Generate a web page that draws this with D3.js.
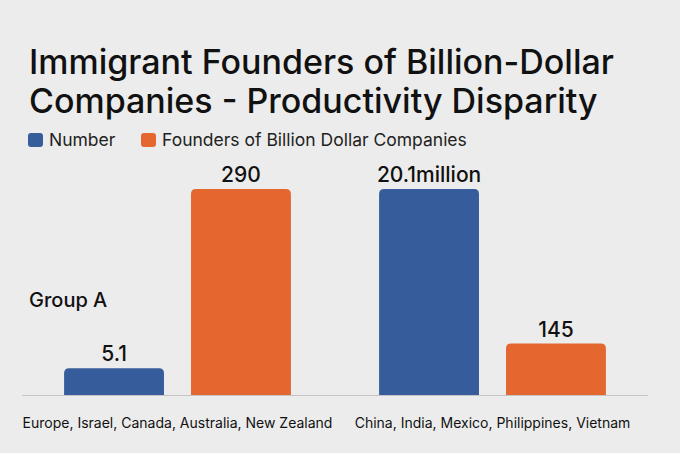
<!DOCTYPE html>
<html>
<head>
<meta charset="utf-8">
<script src="https://cdn.jsdelivr.net/npm/d3@7"></script>
<style>
	html, body { margin: 0; padding: 0; background: #ececec; }
	svg { display: block; font-family: Inter, "Noto Sans", sans-serif; }
</style>
</head>
<body>
<div class="svg-container"></div>
<script>
(function () {

	"use strict";

	// data
	var groups 			= [ "Europe, Israel, Canada, Australia, New Zealand", "China, India, Mexico, Philippines, Vietnam" ];
	var series 			= [ "Number", "Founders of Billion Dollar Companies" ];
	// bar heights as drawn (share of the tallest bar), the picture is not to scale
	var number_values 	= [ 13, 100 ];
	var founder_values 	= [ 100, 25 ];
	var number_labels 	= [ "5.1", "20.1million" ];
	var founder_labels 	= [ "290", "145" ];

	var colors 			= [ "#365c9b", "#e3672f" ];

	var width = 680,
		height = 453,
		baseline = 395;

	var svg = d3.select(".svg-container").append("svg")
		.attr("width", width)
		.attr("height", height);

	var rows = groups.map(function (g, i) {
		return {
			group: g,
			bars: [
				{ key: series[0], value: number_values[i], label: number_labels[i] },
				{ key: series[1], value: founder_values[i], label: founder_labels[i] }
			]
		};
	});

	var x0 = d3.scaleBand()
		.domain(groups)
		.range([ 20, 650 ])
		.paddingInner(0.28)
		.paddingOuter(0.14);

	var x1 = d3.scaleBand()
		.domain(series)
		.range([ 0, x0.bandwidth() ])
		.paddingInner(0.213);

	var y = d3.scaleLinear()
		.domain([ 0, 100 ])
		.range([ baseline, 189 ]);

	var color = d3.scaleOrdinal().domain(series).range(colors);

	// title
	var title = svg.append("text")
		.attr("x", 29)
		.attr("y", 74)
		.attr("fill", "#111")
		.style("font-size", "34px")
		.style("font-weight", 500);
	title.append("tspan").attr("x", 29).text("Immigrant Founders of Billion-Dollar");
	title.append("tspan").attr("x", 29).attr("dy", 39).text("Companies - Productivity Disparity");

	// legend
	var legend_x = [ 28, 141 ];
	var legend = svg.selectAll(".legend")
		.data(series)
		.enter()
		.append("g")
		.attr("class", "legend")
		.attr("transform", function (d, i) { return "translate(" + legend_x[i] + ",133)"; });

	legend.append("rect")
		.attr("width", 15)
		.attr("height", 14)
		.attr("rx", 3)
		.attr("fill", function (d) { return color(d); });

	legend.append("text")
		.attr("x", 21)
		.attr("y", 13)
		.attr("fill", "#222")
		.style("font-size", "17.5px")
		.text(function (d) { return d; });

	// baseline
	svg.append("line")
		.attr("x1", 22)
		.attr("x2", 648)
		.attr("y1", baseline + 0.5)
		.attr("y2", baseline + 0.5)
		.attr("stroke", "#c4c4c4")
		.attr("stroke-width", 1);

	var group = svg.selectAll(".group")
		.data(rows)
		.enter()
		.append("g")
		.attr("class", "group")
		.attr("transform", function (d) { return "translate(" + x0(d.group) + ",0)"; });

	var r = 5;
	group.selectAll(".bar")
		.data(function (d) { return d.bars; })
		.enter()
		.append("path")
		.attr("class", "bar")
		.attr("fill", function (d) { return color(d.key); })
		.attr("d", function (d) {
			var x = x1(d.key), w = x1.bandwidth(), top = y(d.value);
			return "M" + x + "," + baseline +
				"V" + (top + r) +
				"Q" + x + "," + top + " " + (x + r) + "," + top +
				"H" + (x + w - r) +
				"Q" + (x + w) + "," + top + " " + (x + w) + "," + (top + r) +
				"V" + baseline + "Z";
		});

	group.selectAll(".value")
		.data(function (d) { return d.bars; })
		.enter()
		.append("text")
		.attr("class", "value")
		.attr("x", function (d) { return x1(d.key) + x1.bandwidth() / 2; })
		.attr("y", function (d) { return y(d.value) - 7; })
		.attr("text-anchor", "middle")
		.attr("fill", "#111")
		.style("font-size", "21px")
		.style("font-weight", 500)
		.text(function (d) { return d.label; });

	group.append("text")
		.attr("class", "category")
		.attr("x", x0.bandwidth() / 2)
		.attr("y", 428)
		.attr("text-anchor", "middle")
		.attr("fill", "#111")
		.style("font-size", "14px")
		.text(function (d) { return d.group; });

	svg.append("text")
		.attr("x", 29)
		.attr("y", 307)
		.attr("fill", "#111")
		.style("font-size", "20px")
		.style("font-weight", 500)
		.text("Group A");

})();
</script>
</body>
</html>
